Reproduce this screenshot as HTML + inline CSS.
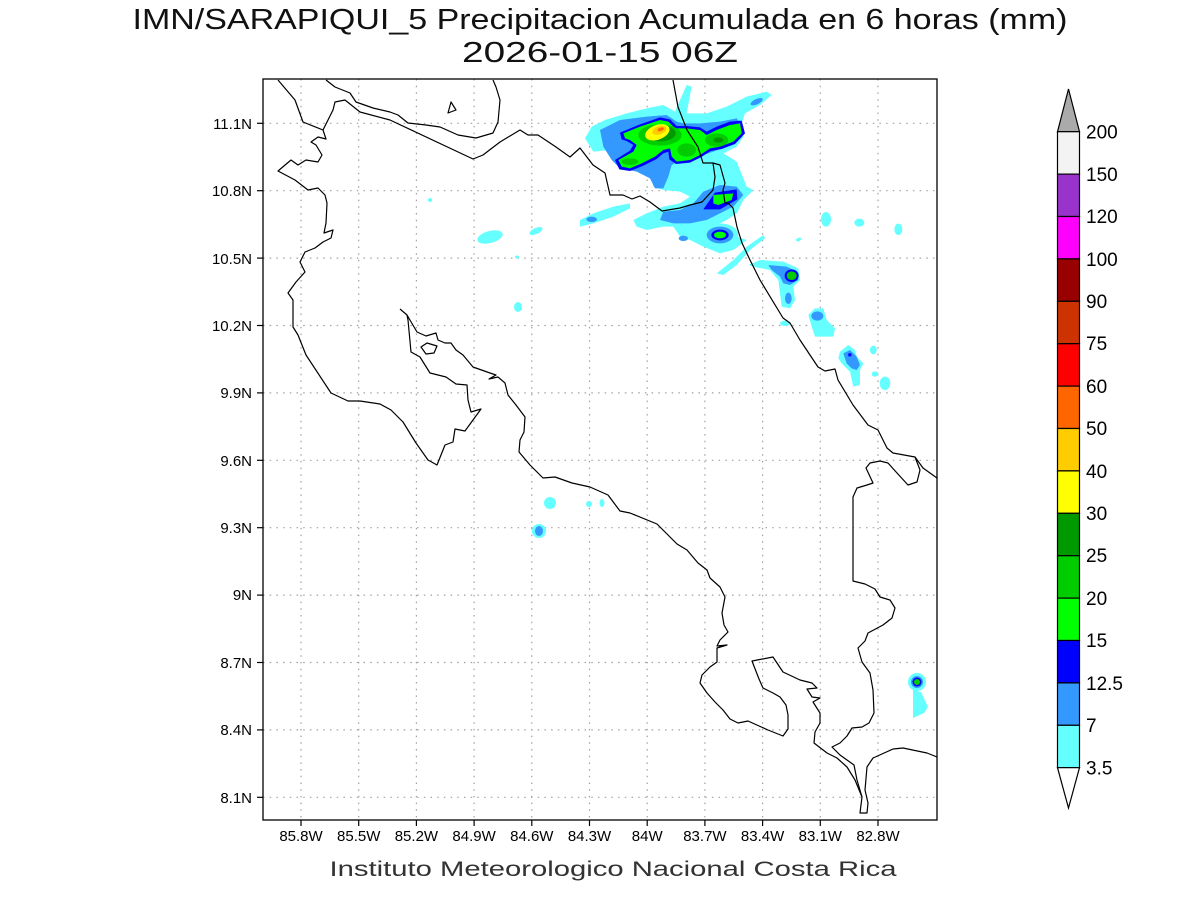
<!DOCTYPE html>
<html><head><meta charset="utf-8"><style>
html,body{margin:0;padding:0;background:#fff;}
svg{display:block;}
text{font-family:"Liberation Sans",sans-serif;}
</style></head><body>
<svg width="1200" height="900" viewBox="0 0 1200 900" xmlns="http://www.w3.org/2000/svg">
<rect width="1200" height="900" fill="#fff"/>
<text x="600" y="29" font-size="29" text-anchor="middle" textLength="935" lengthAdjust="spacingAndGlyphs" fill="#111">IMN/SARAPIQUI_5 Precipitacion Acumulada en 6 horas (mm)</text>
<text x="600" y="62" font-size="29" text-anchor="middle" textLength="276" lengthAdjust="spacingAndGlyphs" fill="#111">2026-01-15 06Z</text>

<defs><clipPath id="c"><rect x="263" y="79" width="674" height="741"/></clipPath></defs>

<!-- grid -->
<g stroke="#a0a0a0" stroke-width="1.2" stroke-dasharray="1.5 5.2">
<line x1="301" y1="79" x2="301" y2="820"/><line x1="358.7" y1="79" x2="358.7" y2="820"/><line x1="416.4" y1="79" x2="416.4" y2="820"/><line x1="474.1" y1="79" x2="474.1" y2="820"/><line x1="531.8" y1="79" x2="531.8" y2="820"/><line x1="589.5" y1="79" x2="589.5" y2="820"/><line x1="647.2" y1="79" x2="647.2" y2="820"/><line x1="704.9" y1="79" x2="704.9" y2="820"/><line x1="762.6" y1="79" x2="762.6" y2="820"/><line x1="820.3" y1="79" x2="820.3" y2="820"/><line x1="878" y1="79" x2="878" y2="820"/>
<line x1="263" y1="123.3" x2="937" y2="123.3"/><line x1="263" y1="190.7" x2="937" y2="190.7"/><line x1="263" y1="258.1" x2="937" y2="258.1"/><line x1="263" y1="325.5" x2="937" y2="325.5"/><line x1="263" y1="392.9" x2="937" y2="392.9"/><line x1="263" y1="460.3" x2="937" y2="460.3"/><line x1="263" y1="527.7" x2="937" y2="527.7"/><line x1="263" y1="595.1" x2="937" y2="595.1"/><line x1="263" y1="662.5" x2="937" y2="662.5"/><line x1="263" y1="729.9" x2="937" y2="729.9"/><line x1="263" y1="797.3" x2="937" y2="797.3"/>
</g>

<g clip-path="url(#c)">
<!-- main cluster (zoom1 coords) -->
<g transform="translate(580,80) scale(0.33333)">
<g fill="#66ffff">
<polygon points="15,175 35,140 75,120 140,100 200,85 250,75 285,95 300,60 320,15 335,20 320,100 380,100 440,80 500,50 560,35 575,45 540,75 495,100 485,130 490,170 470,200 430,220 470,245 500,320 520,330 490,360 470,400 440,420 400,440 380,470 420,490 470,470 500,480 460,510 420,520 370,500 330,480 300,470 280,440 250,440 200,450 170,440 160,420 200,400 250,380 300,370 330,350 300,335 250,330 220,320 210,280 170,270 120,260 90,210 40,215"/>
<polygon points="0,420 40,400 100,380 150,370 150,385 100,410 40,430 0,440"/>
<ellipse cx="420" cy="465" rx="55" ry="35"/>
</g>
<g fill="#3399ff">
<polygon points="60,150 120,120 200,110 260,105 290,125 310,130 360,130 420,125 470,115 490,140 475,175 440,200 400,215 340,235 300,240 275,255 265,290 250,325 225,325 210,295 170,275 120,265 95,240 70,200"/>
<polygon points="370,335 420,315 470,320 490,345 460,380 420,400 380,420 330,430 280,430 240,420 250,395 300,390 340,370"/>
<ellipse cx="420" cy="465" rx="40" ry="25"/>
<ellipse cx="310" cy="475" rx="14" ry="8"/>
<ellipse cx="35" cy="418" rx="16" ry="8"/>
<ellipse cx="530" cy="65" rx="20" ry="8" transform="rotate(-25 530 65)"/>
</g>
<g fill="#0000ff">
<polygon points="120,158 175,135 240,112 270,118 290,138 320,138 360,142 380,155 410,140 450,125 485,122 495,160 465,192 425,207 392,213 362,232 330,248 288,252 268,238 265,215 250,220 228,238 188,258 150,273 118,268 105,240 150,212 160,195 140,183 125,178"/>
<polygon points="370,388 405,338 470,328 472,358 420,388"/>
<ellipse cx="420" cy="465" rx="26" ry="16"/>
</g>
<g fill="#00ff00">
<polygon points="130,160 180,140 240,120 265,125 285,145 320,145 360,150 380,165 410,150 450,135 480,130 485,160 460,185 420,200 390,205 360,225 330,240 290,245 275,230 270,205 250,210 225,230 185,250 150,265 125,260 115,240 160,215 170,195 150,180 135,175"/>
<polygon points="400,345 460,340 455,360 415,375 400,370"/>
<ellipse cx="420" cy="465" rx="18" ry="10"/>
</g>
<g fill="#00cc00">
<ellipse cx="240" cy="165" rx="65" ry="32"/>
<ellipse cx="410" cy="180" rx="35" ry="20"/>
<ellipse cx="320" cy="210" rx="28" ry="20"/>
<ellipse cx="150" cy="245" rx="25" ry="10"/>
</g>
<g fill="#009900">
<ellipse cx="242" cy="160" rx="45" ry="24"/>
<ellipse cx="415" cy="180" rx="15" ry="8"/>
</g>
<ellipse cx="232" cy="157" rx="38" ry="22" fill="#ffff00" transform="rotate(-20 232 157)"/>
<ellipse cx="238" cy="151" rx="22" ry="12" fill="#ffcc00" transform="rotate(-20 238 151)"/>
<ellipse cx="242" cy="148" rx="10" ry="5" fill="#ff6600" transform="rotate(-20 242 148)"/>
</g>

<!-- zoom5 region -->
<g transform="translate(700,200) scale(0.33333)">
<g fill="#66ffff">
<polygon points="50,220 100,180 140,140 190,105 195,115 150,150 110,195 70,225"/>
<polygon points="145,195 180,180 250,185 295,205 300,240 280,260 285,300 270,325 245,320 240,280 235,240 210,210 160,200"/>
<ellipse cx="255" cy="370" rx="15" ry="8"/>
<polygon points="325,345 345,325 370,325 380,360 405,385 400,410 345,410 335,380"/>
<polygon points="420,455 445,435 465,450 470,470 490,490 480,510 480,555 460,560 450,515 425,490 415,475"/>
<ellipse cx="520" cy="450" rx="10" ry="13"/>
<ellipse cx="525" cy="522" rx="10" ry="8"/>
<ellipse cx="555" cy="550" rx="16" ry="20"/>
<ellipse cx="378" cy="58" rx="15" ry="22"/>
<ellipse cx="478" cy="68" rx="15" ry="12"/>
<ellipse cx="595" cy="88" rx="12" ry="17"/>
<ellipse cx="298" cy="117" rx="6" ry="4"/>
</g>
<g fill="#3399ff">
<polygon points="205,195 260,200 290,215 295,240 270,255 250,250 240,230 215,210"/>
<ellipse cx="265" cy="295" rx="10" ry="17"/>
<ellipse cx="352" cy="348" rx="18" ry="14"/>
<polygon points="430,460 450,450 470,470 480,495 470,510 455,505 440,490"/>
</g>
<ellipse cx="275" cy="227" rx="21" ry="19" fill="#0000ff"/>
<ellipse cx="275" cy="227" rx="15" ry="13" fill="#00cc00"/>
<rect x="445" y="460" width="9" height="9" fill="#0000ff"/>
</g>

<!-- small scattered blobs -->
<g fill="#66ffff">
<ellipse cx="490" cy="237" rx="13" ry="6" transform="rotate(-15 490 237)"/>
<ellipse cx="536" cy="231" rx="7" ry="3" transform="rotate(-25 536 231)"/>
<ellipse cx="430" cy="200" rx="2" ry="2"/>
<ellipse cx="518" cy="307" rx="4" ry="5"/>
<ellipse cx="517" cy="257" rx="2" ry="1.5"/>
<ellipse cx="550" cy="503" rx="6" ry="6"/>
<ellipse cx="589" cy="504" rx="3" ry="3"/>
<ellipse cx="602" cy="503" rx="2.5" ry="4"/>
<ellipse cx="539" cy="531" rx="7" ry="7"/>
<circle cx="917" cy="682" r="9"/>
<polygon points="913,690 921,692 928,707 924,713 913,718"/>
<ellipse cx="798" cy="240" rx="2" ry="1.5"/>
</g>
<ellipse cx="539" cy="531" rx="4" ry="5" fill="#3399ff"/>
<circle cx="917" cy="682" r="6" fill="#3399ff"/>
<circle cx="917" cy="682" r="4.5" fill="#0000ff"/>
<circle cx="917" cy="682" r="3" fill="#00cc00"/>
</g>

<!-- coastlines / borders -->
<g clip-path="url(#c)" fill="none" stroke="#000" stroke-width="1.2" stroke-linejoin="round">
<polyline points="278,80 295,100 303,122 323,130 326,139 318,137 311,142 316,145 322,155 318,162 306,160 298,165 291,160 278,171 295,180 308,190 318,188 325,195 327,203 326,223 324,233 333,230 331,238 323,242 315,248 305,252 300,262 305,272 296,282 288,293 293,300 293,327 298,335 306,355 331,393 348,401 360,401 380,404 391,410 403,422 416,443 428,460 437,465 445,445 453,442 455,429 465,431 473,420 481,409 471,412 468,400 467,385 456,384 446,377 430,373 420,357 411,352 408,320 407,315 400,309"/>
<polyline points="407,315 417,332 426,336 436,333 438,340 445,343 451,343 456,350 463,355 473,367 490,373 496,375 489,379 498,377 505,383 508,395 516,405 525,417 524,432 520,440 519,452 530,465 543,478 555,477 572,483 590,487 608,495 620,511 630,513 657,524 665,532 677,544 687,550 698,563 707,570 710,578 720,587 725,597 722,613 724,625 728,632 720,640 717,646 727,645 717,648 717,662 710,667 702,675 700,683 707,693 715,702 723,710 730,719 738,723 748,721 768,730 783,736 788,729 788,715 786,705 780,697 773,693 763,688 759,679 752,661 773,657 783,672 800,680 812,683 817,688 807,689 812,697 820,698 813,702 820,713 820,723 815,732 814,743 827,753 837,758 847,767 855,780 862,797 860,813 867,813 868,803 865,790 867,767 873,758 893,749 903,748 927,753 937,757"/>
<polyline points="915,457 920,470 917,482 908,485 897,473 888,463 880,461 870,463 866,468 873,483 867,485 857,488 853,497 853,581 865,584 875,589 880,597 890,600 895,608 892,618 883,625 868,633 865,641 858,648 862,662 870,673 873,690 874,713 869,723 862,727 852,728 847,736 840,743 832,747 840,755 847,760 854,765 857,780 862,797"/>
<polyline points="673,80 678,107 687,130 698,147 703,163 713,163 720,165 725,183 723,190 725,203 728,203 733,208 737,227 742,243 750,260 760,280 783,318 790,323 800,340 818,367 825,371 835,369 838,380 853,405 868,425 878,430 887,448 893,453 915,457 923,468 937,478"/>
<polyline points="713,163 715,177 713,190 702,202 690,205 680,208 662,211 650,202 640,196 632,199 623,195 610,195 605,173 593,165 580,148 570,157 556,147 538,135 528,135 520,130 500,142 483,155 473,159 390,120 360,112 345,100 335,102 333,110 323,130"/>
<polyline points="326,80 335,87 350,93 356,102 373,108 390,112 398,115 408,123 426,125 440,127 458,135 476,138 493,133 498,122 500,100 496,87 493,80"/>
<polygon points="448,113 451,102 456,110"/>
<polygon points="421,347 427,343 437,346 434,353 426,354"/>
</g>

<!-- frame -->
<rect x="263" y="79" width="674" height="741" fill="none" stroke="#000" stroke-width="1.3"/>
<g stroke="#000" stroke-width="1.2">
<line x1="257" y1="123.3" x2="263" y2="123.3"/><line x1="257" y1="190.7" x2="263" y2="190.7"/><line x1="257" y1="258.1" x2="263" y2="258.1"/><line x1="257" y1="325.5" x2="263" y2="325.5"/><line x1="257" y1="392.9" x2="263" y2="392.9"/><line x1="257" y1="460.3" x2="263" y2="460.3"/><line x1="257" y1="527.7" x2="263" y2="527.7"/><line x1="257" y1="595.1" x2="263" y2="595.1"/><line x1="257" y1="662.5" x2="263" y2="662.5"/><line x1="257" y1="729.9" x2="263" y2="729.9"/><line x1="257" y1="797.3" x2="263" y2="797.3"/>
<line x1="301" y1="820" x2="301" y2="826"/><line x1="358.7" y1="820" x2="358.7" y2="826"/><line x1="416.4" y1="820" x2="416.4" y2="826"/><line x1="474.1" y1="820" x2="474.1" y2="826"/><line x1="531.8" y1="820" x2="531.8" y2="826"/><line x1="589.5" y1="820" x2="589.5" y2="826"/><line x1="647.2" y1="820" x2="647.2" y2="826"/><line x1="704.9" y1="820" x2="704.9" y2="826"/><line x1="762.6" y1="820" x2="762.6" y2="826"/><line x1="820.3" y1="820" x2="820.3" y2="826"/><line x1="878" y1="820" x2="878" y2="826"/>
</g>
<g font-size="15" fill="#000" text-anchor="end">
<text x="252" y="129">11.1N</text><text x="252" y="196">10.8N</text><text x="252" y="264">10.5N</text><text x="252" y="331">10.2N</text><text x="252" y="398">9.9N</text><text x="252" y="466">9.6N</text><text x="252" y="533">9.3N</text><text x="252" y="600">9N</text><text x="252" y="668">8.7N</text><text x="252" y="735">8.4N</text><text x="252" y="803">8.1N</text>
</g>
<g font-size="15" fill="#000" text-anchor="middle">
<text x="301" y="841">85.8W</text><text x="358.7" y="841">85.5W</text><text x="416.4" y="841">85.2W</text><text x="474.1" y="841">84.9W</text><text x="531.8" y="841">84.6W</text><text x="589.5" y="841">84.3W</text><text x="647.2" y="841">84W</text><text x="704.9" y="841">83.7W</text><text x="762.6" y="841">83.4W</text><text x="820.3" y="841">83.1W</text><text x="878" y="841">82.8W</text>
</g>
<text x="613" y="876" font-size="21" text-anchor="middle" textLength="567" lengthAdjust="spacingAndGlyphs" fill="#333">Instituto Meteorologico Nacional Costa Rica</text>

<!-- colorbar -->
<g stroke="#000" stroke-width="1.2">
<polygon points="1057.5,131.7 1079.5,131.7 1068.5,89" fill="#aaaaaa"/>
<rect x="1057.5" y="131.7" width="22" height="42.4" fill="#f3f3f3"/>
<rect x="1057.5" y="174.1" width="22" height="42.4" fill="#9933cc"/>
<rect x="1057.5" y="216.5" width="22" height="42.4" fill="#ff00ff"/>
<rect x="1057.5" y="258.9" width="22" height="42.4" fill="#990000"/>
<rect x="1057.5" y="301.3" width="22" height="42.4" fill="#cc3300"/>
<rect x="1057.5" y="343.7" width="22" height="42.4" fill="#ff0000"/>
<rect x="1057.5" y="386.1" width="22" height="42.4" fill="#ff6600"/>
<rect x="1057.5" y="428.5" width="22" height="42.4" fill="#ffcc00"/>
<rect x="1057.5" y="470.9" width="22" height="42.4" fill="#ffff00"/>
<rect x="1057.5" y="513.3" width="22" height="42.4" fill="#009900"/>
<rect x="1057.5" y="555.7" width="22" height="42.4" fill="#00cc00"/>
<rect x="1057.5" y="598.1" width="22" height="42.4" fill="#00ff00"/>
<rect x="1057.5" y="640.5" width="22" height="42.4" fill="#0000ff"/>
<rect x="1057.5" y="682.9" width="22" height="42.4" fill="#3399ff"/>
<rect x="1057.5" y="725.3" width="22" height="42.4" fill="#66ffff"/>
<polygon points="1057.5,767.7 1079.5,767.7 1068.5,808" fill="#fff"/>
</g>
<g font-size="19" fill="#000">
<text x="1086" y="138.5">200</text><text x="1086" y="181">150</text><text x="1086" y="223">120</text><text x="1086" y="266">100</text><text x="1086" y="308">90</text><text x="1086" y="350">75</text><text x="1086" y="393">60</text><text x="1086" y="435">50</text><text x="1086" y="478">40</text><text x="1086" y="520">30</text><text x="1086" y="562">25</text><text x="1086" y="605">20</text><text x="1086" y="647">15</text><text x="1086" y="690">12.5</text><text x="1086" y="732">7</text><text x="1086" y="774.5">3.5</text>
</g>
</svg>
</body></html>
